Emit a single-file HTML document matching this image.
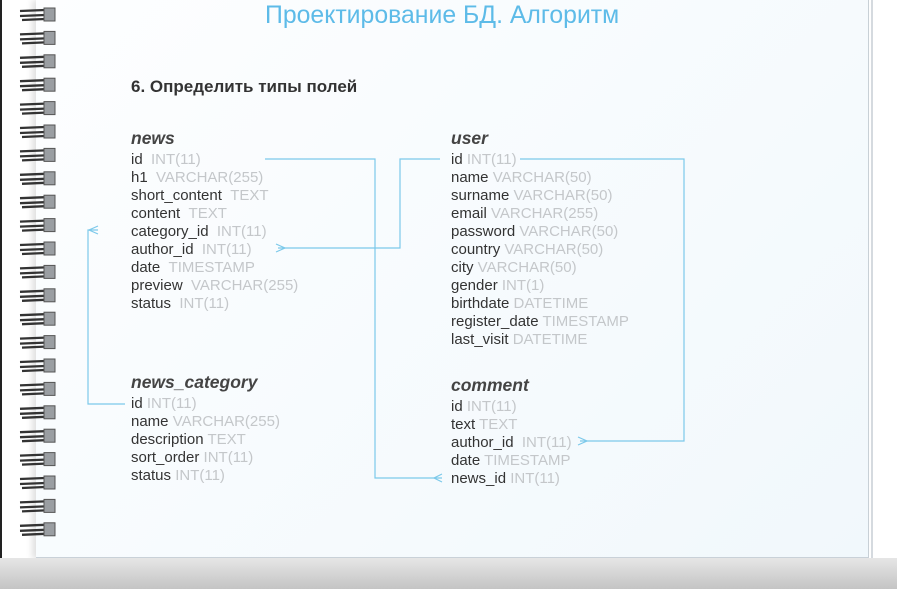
<!DOCTYPE html>
<html><head><meta charset="utf-8"><style>
body{margin:0;width:897px;height:589px;overflow:hidden;background:#fff;position:relative;font-family:"Liberation Sans",sans-serif;}
.bot{position:absolute;left:0;top:558px;width:897px;height:31px;background:linear-gradient(#e6e6e6,#c4c4c4);}
.page{position:absolute;left:36px;top:0;width:832px;height:557px;background:linear-gradient(135deg,#fdfeff,#f1f8fc);border-right:1px solid #c8d0d6;border-bottom:2px solid #c9d1d8;box-shadow:-4px 0 6px rgba(0,0,0,0.12);}
.edge2{position:absolute;left:871px;top:0;width:2px;height:560px;background:#d5dadf;}
.lb{position:absolute;left:0;top:0;width:2px;height:560px;background:#222;}
.t{position:absolute;white-space:nowrap;}
.title{left:265px;top:2px;font-size:24.8px;color:#5dbbe8;}
.h{left:131px;top:77px;font-size:17px;font-weight:bold;color:#333;}
.tb{font-size:17.5px;font-style:italic;font-weight:bold;color:#444;}
.r{position:absolute;font-size:15px;line-height:18px;color:#333;white-space:nowrap;}
.r span{color:#c4c7ca;}
</style></head><body>
<div class="lb"></div>
<div class="page"></div>
<div class="edge2"></div>
<div class="bot"></div>
<svg style="position:absolute;left:0;top:0" width="70" height="560">
<defs><g id="ring">
<path d="M20,-4 L45,-5 M20,1 L45,0 M22,5 L45,4" stroke="#333" stroke-width="2.3" fill="none"/>
<rect x="44" y="-7" width="11" height="13" fill="#9a9ea2" stroke="#555" stroke-width="1"/>
</g></defs>
<g id="rings"></g>
</svg>
<script>
var g=document.getElementById('rings'),s='';
for(var i=0;i<23;i++){s+='<use href="#ring" y="'+(15+i*23.4).toFixed(1)+'"/>';}
g.innerHTML=s;
</script>
<div class="t title">Проектирование БД. Алгоритм</div>
<div class="t h">6. Определить типы полей</div>

<svg style="position:absolute;left:0;top:0" width="897" height="589" fill="none" stroke="#7cc9ea" stroke-width="1.2">
<path d="M265,159 H375 V478 H442"/>
<path d="M442,474 L434,478 L442,482"/>
<path d="M440,159 H400 V248 H278"/>
<path d="M276,244 L285,248 L276,252"/>
<path d="M520,159 H684 V441 H580"/>
<path d="M578,437 L587,441 L578,445"/>
<path d="M125,404 H88 V230 H98"/>
<path d="M98,226 L89,230 L98,234"/>
</svg>

<div class="t tb" style="left:131px;top:128px">news</div>
<div class="r" style="left:131px;top:151px">
id&nbsp;&nbsp;<span>INT(11)</span><br>h1&nbsp;&nbsp;<span>VARCHAR(255)</span><br>short_content&nbsp;&nbsp;<span>TEXT</span><br>content&nbsp;&nbsp;<span>TEXT</span><br>category_id&nbsp;&nbsp;<span>INT(11)</span><br>author_id&nbsp;&nbsp;<span>INT(11)</span><br>date&nbsp;&nbsp;<span>TIMESTAMP</span><br>preview&nbsp;&nbsp;<span>VARCHAR(255)</span><br>status&nbsp;&nbsp;<span>INT(11)</span></div>

<div class="t tb" style="left:451px;top:128px">user</div>
<div class="r" style="left:451px;top:151px">
id <span>INT(11)</span><br>name <span>VARCHAR(50)</span><br>surname <span>VARCHAR(50)</span><br>email <span>VARCHAR(255)</span><br>password <span>VARCHAR(50)</span><br>country <span>VARCHAR(50)</span><br>city <span>VARCHAR(50)</span><br>gender <span>INT(1)</span><br>birthdate <span>DATETIME</span><br>register_date <span>TIMESTAMP</span><br>last_visit <span>DATETIME</span></div>

<div class="t tb" style="left:131px;top:372px">news_category</div>
<div class="r" style="left:131px;top:395px">
id <span>INT(11)</span><br>name <span>VARCHAR(255)</span><br>description <span>TEXT</span><br>sort_order <span>INT(11)</span><br>status <span>INT(11)</span></div>

<div class="t tb" style="left:451px;top:375px">comment</div>
<div class="r" style="left:451px;top:398px">
id <span>INT(11)</span><br>text <span>TEXT</span><br>author_id&nbsp;&nbsp;<span>INT(11)</span><br>date <span>TIMESTAMP</span><br>news_id <span>INT(11)</span></div>
</body></html>
